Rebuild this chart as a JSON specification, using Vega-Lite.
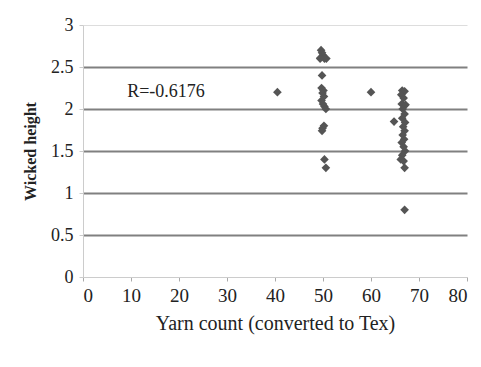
{
  "$schema": "https://vega.github.io/schema/vega-lite/v6.json",
  "width": 384,
  "height": 252,
  "autosize": {"type": "none"},
  "padding": {"left": 83, "top": 25, "right": 14, "bottom": 90},
  "background": "white",
  "config": {"view": {"stroke": null}, "font": "Liberation Serif, Times New Roman, serif"},
  "datasets": {
    "pts": [
      {"x": 49.6, "y": 2.7}, {"x": 49.8, "y": 2.67}, {"x": 50.0, "y": 2.64}, {"x": 49.5, "y": 2.61}, {"x": 50.3, "y": 2.6}, {"x": 50.7, "y": 2.6}, {"x": 49.4, "y": 2.6},
      {"x": 49.8, "y": 2.4}, {"x": 49.7, "y": 2.25}, {"x": 50.1, "y": 2.22}, {"x": 49.9, "y": 2.19}, {"x": 50.2, "y": 2.15}, {"x": 49.7, "y": 2.1},
      {"x": 50.0, "y": 2.06}, {"x": 50.3, "y": 2.03}, {"x": 50.6, "y": 2.0}, {"x": 50.2, "y": 1.8}, {"x": 49.9, "y": 1.77}, {"x": 49.8, "y": 1.74},
      {"x": 50.3, "y": 1.4}, {"x": 50.6, "y": 1.3},
      {"x": 40.5, "y": 2.2}, {"x": 60.0, "y": 2.2}, {"x": 64.8, "y": 1.85},
      {"x": 66.5, "y": 2.22}, {"x": 67.0, "y": 2.21}, {"x": 66.3, "y": 2.17}, {"x": 66.8, "y": 2.13}, {"x": 66.4, "y": 2.06}, {"x": 67.2, "y": 2.05},
      {"x": 66.6, "y": 2.0}, {"x": 67.0, "y": 1.94}, {"x": 66.5, "y": 1.89}, {"x": 67.1, "y": 1.84}, {"x": 66.7, "y": 1.79}, {"x": 67.0, "y": 1.74},
      {"x": 66.6, "y": 1.69}, {"x": 66.9, "y": 1.64}, {"x": 66.4, "y": 1.6}, {"x": 66.8, "y": 1.55}, {"x": 67.1, "y": 1.5}, {"x": 66.5, "y": 1.45},
      {"x": 66.2, "y": 1.4}, {"x": 66.8, "y": 1.38}, {"x": 67.0, "y": 1.3}, {"x": 67.0, "y": 0.8}
    ],
    "note": [{"x": 9.2, "y": 2.2, "label": "R=-0.6176"}]
  },
  "layer": [
    {
      "data": {"name": "pts"},
      "mark": {"type": "point", "shape": "diamond", "filled": true, "size": 75, "color": "#555555", "opacity": 1},
      "encoding": {
        "x": {
          "field": "x", "type": "quantitative",
          "scale": {"domain": [0, 80], "nice": false, "zero": true},
          "axis": {
            "values": [0, 10, 20, 30, 40, 50, 60, 70, 80],
            "title": "Yarn count (converted to Tex)",
            "titleFont": "Liberation Serif", "titleFontSize": 20, "titleFontWeight": "normal", "titleColor": "#222",
            "titlePadding": 8,
            "labelFont": "Liberation Serif", "labelFontSize": 19, "labelColor": "#222", "labelPadding": 5,
            "domainColor": "#cccccc", "domainWidth": 1,
            "tickColor": "#aaaaaa", "tickSize": 4,
            "grid": false
          }
        },
        "y": {
          "field": "y", "type": "quantitative",
          "scale": {"domain": [0, 3], "nice": false},
          "axis": {
            "values": [0, 0.5, 1, 1.5, 2, 2.5, 3],
            "format": "~g",
            "title": "Wicked height",
            "titleFont": "Liberation Serif", "titleFontSize": 16, "titleFontWeight": "bold", "titleColor": "#222",
            "titlePadding": 12,
            "labelFont": "Liberation Serif", "labelFontSize": 18, "labelColor": "#222", "labelPadding": 6,
            "domainColor": "#cccccc", "domainWidth": 1,
            "tickColor": "#cccccc", "tickSize": 4,
            "grid": true,
            "gridColor": {"condition": {"test": "datum.value == 0 || datum.value == 3", "value": "#dddddd"}, "value": "#808080"},
            "gridWidth": {"condition": {"test": "datum.value == 0 || datum.value == 3", "value": 1}, "value": 2}
          }
        }
      }
    },
    {
      "data": {"name": "note"},
      "mark": {"type": "text", "align": "left", "baseline": "middle", "font": "Liberation Serif", "fontSize": 18, "color": "#222"},
      "encoding": {
        "x": {"field": "x", "type": "quantitative"},
        "y": {"field": "y", "type": "quantitative"},
        "text": {"field": "label"}
      }
    }
  ]
}
